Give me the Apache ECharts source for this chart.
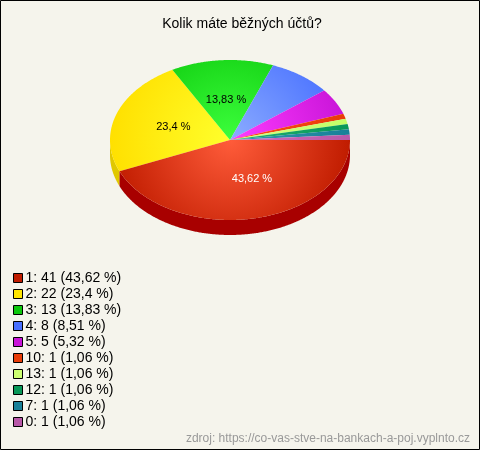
<!DOCTYPE html>
<html><head><meta charset="utf-8">
<style>html,body{margin:0;padding:0;background:#f5f4ec}#c{width:480px;height:450px}</style>
<script src="https://cdn.jsdelivr.net/npm/echarts@6/dist/echarts.min.js"></script>
</head><body><div id="c"></div>
<script>
const categories=['1','2','3','4','5','10','13','12','7','0'];
const counts=[41,22,13,8,5,1,1,1,1,1];
const percents=['43,62','23,4','13,83','8,51','5,32','1,06','1,06','1,06','1,06','1,06'];
const inner=['#ff5c3a','#ffff2c','#3cff3c','#8cacff','#ff3cff','#ff4a18','#d4ff80','#20b070','#3098b0','#d070c0'];
const outer=['#c01c00','#ffe000','#0cc80c','#4870ff','#c814d8','#e83c08','#c4ff68','#089858','#188098','#b858a8'];
const sides=['#a80000','#e0c800','#0a9a0a','#3858c8','#a010a8','#b83006','#98c850','#067848','#126478','#904488'];
const legendColors=['#c01c00','#ffe600','#0cc80c','#4870ff','#c814d8','#e83c08','#ccff70','#089858','#188098','#b858a8'];
const labelShift=[10,0,0,0,0,0,0,0,0,0];
const total=counts.reduce((a,b)=>a+b,0);
const CX=230,CY=140,RX=120,RY=80,DEPTH=15,RAD=Math.PI/180;
const ex=t=>CX+RX*Math.cos(t), ey=t=>CY+RY*Math.sin(t);
const names=categories.map((c,i)=>c+': '+counts[i]+' ('+percents[i]+' %)');
let acc=0;
const spans=counts.map(v=>{const a=acc/total*2*Math.PI;acc+=v;return [a,acc/total*2*Math.PI];});
function arc(a,b){const pts=[];const n=Math.max(2,Math.ceil((b-a)/RAD*2));
  for(let k=0;k<=n;k++){const t=a+(b-a)*k/n;pts.push([ex(t),ey(t)]);}return pts;}
function render(i){return function(){
  const [a,b]=spans[i];const children=[];
  const sa=a,sb=Math.min(b,Math.PI);
  if(sa<Math.PI){
    const top=arc(sa,sb);const bottom=top.slice().reverse().map(p=>[p[0],p[1]+DEPTH]);
    children.push({type:'polygon',shape:{points:top.concat(bottom)},style:{fill:sides[i]},z2:1});
  }
  children.push({type:'polygon',shape:{points:[[CX,CY]].concat(arc(a,b))},z2:2,
    style:{fill:new echarts.graphic.RadialGradient(CX,CY,RX,[{offset:0,color:inner[i]},{offset:1,color:outer[i]}],true)}});
  if(counts[i]/total>0.1){
    const m=(a+b)/2;
    children.push({type:'text',z2:3,style:{x:CX+RX*0.5*Math.cos(m)+labelShift[i],y:CY+RY*0.5*Math.sin(m),
      text:percents[i]+' %',fill:i===0?'#fff':'#000',font:'11px "Liberation Sans"',align:'center',verticalAlign:'middle'}});
  }
  return {type:'group',children};
};}
const series=categories.map((c,i)=>({type:'custom',name:names[i],coordinateSystem:'none',z:2+(i===0?1:0),
  data:[[counts[i]]],renderItem:render(i),itemStyle:{color:legendColors[i]},silent:true,animation:false}));
const chart=echarts.init(document.getElementById('c'),null,{renderer:'canvas'});
chart.setOption({
  animation:false,backgroundColor:'#f5f4ec',
  title:{text:'Kolik máte běžných účtů?',left:237,top:12,textAlign:'center',
    textStyle:{fontFamily:'Liberation Sans',fontSize:14,fontWeight:'normal',color:'#000'}},
  legend:{orient:'vertical',left:8,top:266,itemWidth:9,itemHeight:9,itemGap:2,
    textStyle:{fontFamily:'Liberation Sans',fontSize:14,color:'#000',lineHeight:14,padding:[0,0,0,-2]},
    data:names.map((n,i)=>({name:n,icon:'rect',itemStyle:{color:legendColors[i],borderColor:'#000',borderWidth:1}}))},
  graphic:[
    {type:'rect',z:-1,silent:true,shape:{x:0.5,y:0.5,width:479,height:449},style:{fill:'none',stroke:'#000',lineWidth:1}},
    {type:'text',right:10,top:433,silent:true,style:{text:'zdroj: https://co-vas-stve-na-bankach-a-poj.vyplnto.cz',fill:'#999',font:'12px "Liberation Sans"'}}
  ],
  series
});
</script></body></html>
